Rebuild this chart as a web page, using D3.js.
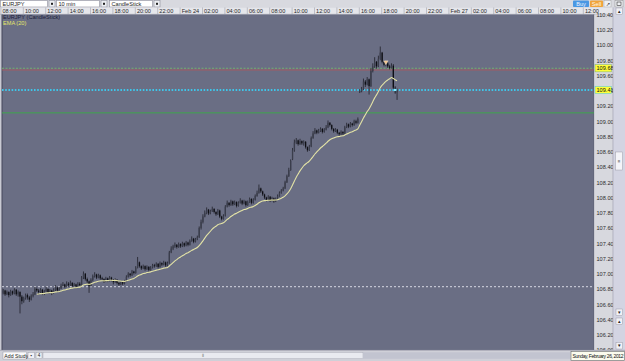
<!DOCTYPE html>
<html><head><meta charset="utf-8">
<script src="https://cdn.jsdelivr.net/npm/d3@7"></script>
<style>
html,body{margin:0;padding:0;background:#c8c9d2;overflow:hidden}
svg{display:block}
text{font-family:"Liberation Sans",Arial,sans-serif}
</style>
</head><body>
<svg id="c" width="625" height="361"></svg>
<script>
// ---------------- DATA ----------------
const symbol = "EURJPY";
const period = "10 min";
const chartType = "CandleStick";
const timeLabels = ["08:00","10:00","12:00","14:00","16:00","18:00","20:00","22:00","Feb 24",
  "02:00","04:00","06:00","08:00","10:00","12:00","14:00","16:00","18:00","20:00","22:00","Feb 27",
  "02:00","04:00","06:00","08:00","10:00","12:00"];
const priceTicks = [106.00,106.20,106.40,106.60,106.80,107.00,107.20,107.40,107.60,107.80,108.00,
  108.20,108.40,108.60,108.80,109.00,109.20,109.40,109.60,109.80,110.00,110.20,110.40];

const opens = [
106.74,106.75,106.78,106.73,106.76,106.72,106.77,106.74,106.79,106.73,
106.76,106.70,106.64,106.68,106.72,106.69,106.66,106.71,106.73,106.80,
106.78,106.76,106.79,106.74,106.77,106.80,106.76,106.78,106.75,106.79,
106.82,106.78,106.81,106.84,106.86,106.83,106.87,106.85,106.88,106.84,
106.86,106.83,106.87,106.85,106.95,107.00,106.93,106.90,106.84,106.92,
106.97,106.99,106.95,106.98,106.94,106.93,106.90,106.94,106.91,106.95,
106.92,106.89,106.92,106.88,106.86,106.89,106.87,106.90,106.96,107.00,
106.98,107.03,107.01,107.08,107.15,107.10,107.07,107.10,107.06,107.09,
107.05,107.08,107.11,107.10,107.13,107.09,107.14,107.12,107.15,107.11,
107.14,107.28,107.33,107.36,107.38,107.35,107.39,107.36,107.40,107.37,
107.41,107.38,107.43,107.46,107.42,107.45,107.48,107.60,107.68,107.75,
107.80,107.84,107.79,107.82,107.85,107.81,107.78,107.83,107.75,107.72,
107.76,107.88,107.93,107.90,107.95,107.91,107.94,107.89,107.93,107.96,
107.92,107.95,107.90,107.94,107.98,107.93,107.97,108.02,108.06,108.12,
108.08,108.04,108.00,107.97,108.01,107.96,107.99,107.95,107.98,108.02,
108.06,108.09,108.12,108.20,108.28,108.36,108.50,108.62,108.72,108.75,
108.70,108.74,108.71,108.73,108.66,108.62,108.67,108.78,108.84,108.88,
108.85,108.87,108.90,108.86,108.89,108.92,108.98,108.95,108.90,108.87,
108.89,108.85,108.83,108.86,108.84,108.92,108.96,108.93,108.97,108.95,
109.00,108.98,109.38,109.40,109.42,109.52,109.48,109.55,109.46,109.66,
109.72,109.78,109.72,109.82,109.90,109.78,109.74,109.76,109.72,109.70,
109.73,109.44,109.38];

const highs = [
106.78,106.80,106.79,106.78,106.77,106.79,106.78,106.81,106.80,106.78,
106.77,106.72,106.70,106.74,106.74,106.71,106.73,106.76,106.83,106.82,
106.80,106.81,106.80,106.79,106.83,106.81,106.80,106.79,106.81,106.85,
106.83,106.83,106.87,106.89,106.87,106.90,106.89,106.91,106.89,106.88,
106.87,106.89,106.89,106.97,107.03,107.01,106.95,106.91,106.94,106.99,
107.02,107.00,107.00,106.99,106.96,106.94,106.96,106.95,106.97,106.96,
106.93,106.94,106.93,106.90,106.91,106.90,106.92,106.98,107.02,107.01,
107.05,107.04,107.10,107.22,107.16,107.11,107.12,107.11,107.11,107.10,
107.10,107.13,107.13,107.15,107.14,107.16,107.15,107.17,107.16,107.16,
107.30,107.36,107.38,107.41,107.39,107.41,107.40,107.42,107.41,107.43,
107.42,107.45,107.49,107.47,107.47,107.50,107.62,107.71,107.78,107.83,
107.87,107.85,107.84,107.88,107.86,107.82,107.85,107.84,107.76,107.78,
107.90,107.96,107.94,107.97,107.96,107.96,107.95,107.95,107.99,107.97,
107.97,107.96,107.96,108.00,107.99,107.99,108.04,108.09,108.17,108.13,
108.09,108.05,108.01,108.03,108.02,108.01,108.00,108.00,108.04,108.08,
108.11,108.14,108.22,108.30,108.39,108.50,108.65,108.76,108.78,108.76,
108.77,108.75,108.75,108.74,108.67,108.69,108.80,108.87,108.91,108.89,
108.90,108.92,108.91,108.91,108.95,109.01,108.99,108.96,108.91,108.91,
108.90,108.86,108.88,108.87,108.94,108.98,108.97,108.99,108.98,109.02,
109.02,109.05,109.42,109.45,109.56,109.54,109.58,109.56,109.70,109.76,
109.84,109.79,109.86,109.98,109.91,109.80,109.79,109.78,109.74,109.76,
109.75,109.46,109.43];

const lows = [
106.71,106.73,106.71,106.72,106.69,106.71,106.72,106.73,106.71,106.70,
106.48,106.60,106.62,106.66,106.66,106.63,106.65,106.69,106.72,106.76,
106.73,106.74,106.72,106.72,106.76,106.74,106.74,106.72,106.74,106.77,
106.76,106.77,106.80,106.82,106.81,106.82,106.83,106.84,106.82,106.82,
106.81,106.82,106.83,106.84,106.93,106.91,106.87,106.75,106.83,106.90,
106.95,106.93,106.94,106.92,106.91,106.88,106.89,106.89,106.90,106.90,
106.86,106.88,106.86,106.84,106.85,106.85,106.86,106.89,106.95,106.96,
106.97,106.99,107.00,107.07,107.08,107.05,107.06,107.04,107.05,107.03,
107.04,107.07,107.08,107.09,107.07,107.08,107.10,107.11,107.09,107.10,
107.13,107.27,107.31,107.34,107.33,107.34,107.34,107.35,107.35,107.36,
107.36,107.37,107.42,107.40,107.41,107.44,107.47,107.58,107.66,107.74,
107.78,107.77,107.78,107.81,107.79,107.76,107.77,107.73,107.70,107.71,
107.75,107.87,107.88,107.89,107.89,107.90,107.87,107.88,107.92,107.90,
107.91,107.88,107.89,107.93,107.91,107.92,107.96,108.01,108.05,108.06,
108.02,107.98,107.95,107.96,107.94,107.95,107.93,107.94,107.97,108.01,
108.05,108.08,108.11,108.19,108.27,108.35,108.49,108.60,108.70,108.68,
108.69,108.69,108.68,108.64,108.60,108.61,108.66,108.77,108.83,108.83,
108.84,108.86,108.84,108.85,108.88,108.91,108.93,108.88,108.85,108.86,
108.83,108.81,108.82,108.82,108.83,108.91,108.91,108.92,108.93,108.94,
108.96,108.97,109.37,109.38,109.41,109.45,109.47,109.35,109.45,109.64,
109.70,109.69,109.71,109.80,109.76,109.72,109.72,109.70,109.68,109.69,
109.42,109.36,109.28];

const closes = [
106.75,106.78,106.73,106.76,106.72,106.77,106.74,106.79,106.73,106.76,
106.70,106.64,106.68,106.72,106.69,106.66,106.71,106.73,106.80,106.78,
106.76,106.79,106.74,106.77,106.80,106.76,106.78,106.75,106.79,106.82,
106.78,106.81,106.84,106.86,106.83,106.87,106.85,106.88,106.84,106.86,
106.83,106.87,106.85,106.95,107.00,106.93,106.90,106.84,106.92,106.97,
106.99,106.95,106.98,106.94,106.93,106.90,106.94,106.91,106.95,106.92,
106.89,106.92,106.88,106.86,106.89,106.87,106.90,106.96,107.00,106.98,
107.03,107.01,107.08,107.15,107.10,107.07,107.10,107.06,107.09,107.05,
107.08,107.11,107.10,107.13,107.09,107.14,107.12,107.15,107.11,107.14,
107.28,107.33,107.36,107.38,107.35,107.39,107.36,107.40,107.37,107.41,
107.38,107.43,107.46,107.42,107.45,107.48,107.60,107.68,107.75,107.80,
107.84,107.79,107.82,107.85,107.81,107.78,107.83,107.75,107.72,107.76,
107.88,107.93,107.90,107.95,107.91,107.94,107.89,107.93,107.96,107.92,
107.95,107.90,107.94,107.98,107.93,107.97,108.02,108.06,108.12,108.08,
108.04,108.00,107.97,108.01,107.96,107.99,107.95,107.98,108.02,108.06,
108.09,108.12,108.20,108.28,108.36,108.48,108.62,108.72,108.75,108.70,
108.74,108.71,108.73,108.66,108.62,108.67,108.78,108.84,108.88,108.85,
108.87,108.90,108.86,108.89,108.92,108.98,108.95,108.90,108.87,108.89,
108.85,108.83,108.86,108.84,108.92,108.96,108.93,108.97,108.95,109.00,
108.98,109.03,109.40,109.42,109.52,109.48,109.55,109.46,109.66,109.72,
109.78,109.72,109.82,109.90,109.78,109.74,109.76,109.72,109.70,109.73,
109.44,109.38,109.41];

const emaPeriod = 20;
// horizontal level lines (prices): ask level, order level, last price, support, reference
const levelAsk = 109.695;
const levelRed = 109.672;
const levelLast = 109.41;
const levelGreen = 109.11;
const levelWhite = 106.83;
const askLabel = "109.68";
const lastLabel = "109.41";
const markerSlot = 206, markerPrice = 109.775;
const footerDate = "Sunday, February 26, 2012";

// ---------------- DRAW ----------------
const W = 625, H = 361;
const P = {x0: 2, x1: 594, y0: 14.5, y1: 350};
const svg = d3.select('#c');
const FS = 5.6;

svg.append('rect').attr('width', W).attr('height', H).attr('fill', '#c9cad3');

// toolbar
svg.append('rect').attr('x', 0).attr('y', 0).attr('width', W).attr('height', 7.5).attr('fill', '#d8d9df');
const boxes = [[0.5, 47, symbol], [56.5, 43, period], [109.5, 43, chartType]];
boxes.forEach(b => {
  svg.append('rect').attr('x', b[0]).attr('y', 0.5).attr('width', b[1]).attr('height', 6.5)
    .attr('fill', '#fff').attr('stroke', '#8c8e9c').attr('stroke-width', 0.6);
  svg.append('text').attr('x', b[0] + 2).attr('y', 5.6).attr('font-size', FS).attr('fill', '#222').text(b[2]);
  svg.append('rect').attr('x', b[0] + b[1] + 1.5).attr('y', 0.5).attr('width', 6).attr('height', 6.5)
    .attr('fill', '#eceef2').attr('stroke', '#8c8e9c').attr('stroke-width', 0.6);
  svg.append('rect').attr('x', b[0] + b[1] + 3.5).attr('y', 2.8).attr('width', 2).attr('height', 2).attr('fill', '#222');
});
// buy / sell buttons
svg.append('rect').attr('x', 573).attr('y', 0.5).attr('width', 16).attr('height', 6.5).attr('fill', '#4a97e3').attr('rx', 0.8);
svg.append('text').attr('x', 581).attr('y', 5.6).attr('text-anchor', 'middle').attr('font-size', FS).attr('fill', '#eaf2ff').text('Buy');
svg.append('rect').attr('x', 590).attr('y', 0.5).attr('width', 13).attr('height', 6.5).attr('fill', '#f0a43a').attr('rx', 0.8);
svg.append('text').attr('x', 596.5).attr('y', 5.6).attr('text-anchor', 'middle').attr('font-size', FS).attr('fill', '#fff8e8').text('Sell');
svg.append('rect').attr('x', 604).attr('y', 0.5).attr('width', 7).attr('height', 6.5).attr('fill', '#eef0f4').attr('stroke', '#999').attr('stroke-width', 0.4);
svg.append('text').attr('x', 607.5).attr('y', 5.6).attr('text-anchor', 'middle').attr('font-size', 5).attr('fill', '#333').text('↗');
svg.append('rect').attr('x', 615).attr('y', 0.5).attr('width', 8).attr('height', 6.5).attr('fill', '#eef0f4').attr('stroke', '#777').attr('stroke-width', 0.4);
svg.append('rect').attr('x', 617).attr('y', 2).attr('width', 4).attr('height', 3.5).attr('fill', 'none').attr('stroke', '#333').attr('stroke-width', 0.6);

// time strip
svg.append('rect').attr('x', 0).attr('y', 7.5).attr('width', 613).attr('height', 7).attr('fill', '#e5e6eb');
svg.append('line').attr('x1', 0).attr('x2', 613).attr('y1', 14.3).attr('y2', 14.3).attr('stroke', '#9a9caa').attr('stroke-width', 0.6);

// scales
const x = d3.scaleLinear().domain([0, 12]).range([0.4, 22.8]);
const y = d3.scaleLinear().domain([106, 110]).range([350, 45]);

const tAxis = svg.append('g').attr('transform', 'translate(0,7.5)')
  .call(d3.axisBottom(x).tickValues(timeLabels.map((_, i) => i * 12))
    .tickFormat((d, i) => timeLabels[i]).tickSize(6.8).tickPadding(0));
tAxis.select('.domain').remove();
tAxis.selectAll('line').attr('stroke', '#9fa1ad').attr('stroke-width', 0.6);
tAxis.selectAll('text').attr('text-anchor', 'start').attr('dx', 1.6).attr('y', 0).attr('dy', 5.2)
  .attr('font-size', FS).attr('fill', '#2a2a2a').attr('font-family', '"Liberation Sans",Arial,sans-serif');

// plot area
svg.append('defs').append('clipPath').attr('id', 'pc').append('rect')
  .attr('x', P.x0).attr('y', P.y0).attr('width', P.x1 - P.x0).attr('height', P.y1 - P.y0);
svg.append('rect').attr('x', P.x0).attr('y', P.y0).attr('width', P.x1 - P.x0).attr('height', P.y1 - P.y0).attr('fill', '#6a6e84');
svg.append('line').attr('x1', P.x0).attr('x2', P.x0).attr('y1', P.y0).attr('y2', P.y1).attr('stroke', '#44475a').attr('stroke-width', 1);
svg.append('line').attr('x1', P.x1).attr('x2', P.x1).attr('y1', P.y0).attr('y2', P.y1).attr('stroke', '#55586a').attr('stroke-width', 0.6);

const g = svg.append('g').attr('clip-path', 'url(#pc)');

// level lines
g.append('line').attr('x1', P.x0).attr('x2', P.x1).attr('y1', y(levelWhite)).attr('y2', y(levelWhite))
  .attr('stroke', '#e4e6ee').attr('stroke-width', 0.9).attr('stroke-dasharray', '2,2');
g.append('line').attr('x1', P.x0).attr('x2', P.x1).attr('y1', y(levelGreen)).attr('y2', y(levelGreen))
  .attr('stroke', '#3fa64e').attr('stroke-width', 1);
g.append('line').attr('x1', P.x0).attr('x2', P.x1).attr('y1', y(levelRed)).attr('y2', y(levelRed))
  .attr('stroke', '#b2555a').attr('stroke-width', 0.8);
g.append('line').attr('x1', P.x0).attr('x2', P.x1).attr('y1', y(levelAsk)).attr('y2', y(levelAsk))
  .attr('stroke', '#74b070').attr('stroke-width', 1).attr('stroke-dasharray', '2,1.5');
g.append('line').attr('x1', P.x0).attr('x2', P.x1).attr('y1', y(levelLast)).attr('y2', y(levelLast))
  .attr('stroke', '#3ec6ea').attr('stroke-width', 1.8).attr('stroke-dasharray', '1.6,1.6');

// candles
const candles = closes.map((c, i) => ({i, o: opens[i], h: highs[i], l: lows[i], c}));
const cg = g.append('g');
cg.selectAll('line.w').data(candles).join('line').attr('class', 'w')
  .attr('x1', d => x(d.i + 0.5)).attr('x2', d => x(d.i + 0.5))
  .attr('y1', d => y(d.h)).attr('y2', d => y(d.l))
  .attr('stroke', '#15161c').attr('stroke-width', 0.7);
cg.selectAll('rect.b').data(candles).join('rect').attr('class', 'b')
  .attr('x', d => x(d.i + 0.5) - 0.65).attr('width', 1.3)
  .attr('y', d => y(Math.max(d.o, d.c)))
  .attr('height', d => Math.max(0.8, Math.abs(y(d.o) - y(d.c))))
  .attr('fill', d => d.c >= d.o ? '#3b3e4c' : '#0e0f14');

// EMA(20)
const k = 2 / (emaPeriod + 1);
const ema = [];
let prev = null;
closes.forEach((c, i) => {
  if (i === emaPeriod - 1) { prev = d3.mean(closes.slice(0, emaPeriod)); ema.push({i, v: prev}); }
  else if (i >= emaPeriod) { prev = prev + k * (c - prev); ema.push({i, v: prev}); }
});
g.append('path').datum(ema).attr('fill', 'none').attr('stroke', '#e3e3a6').attr('stroke-width', 1.1)
  .attr('d', d3.line().x(d => x(d.i + 0.5)).y(d => y(d.v)).curve(d3.curveMonotoneX));

// markers
g.append('path').attr('d', d3.symbol(d3.symbolTriangle, 9)())
  .attr('transform', `translate(${x(markerSlot + 0.5)},${y(markerPrice)}) rotate(180)`)
  .attr('fill', '#f3c48a').attr('stroke', '#fff').attr('stroke-width', 0.3);
g.append('rect').attr('x', x(closes.length - 1.5) - 1.2).attr('y', y(levelLast) - 1.2).attr('width', 2.4).attr('height', 2.4)
  .attr('fill', '#8fe6ff');

// legend
svg.append('text').attr('x', 3).attr('y', 19.3).attr('font-size', FS).attr('fill', '#1b1d3a').text(`${symbol} (${chartType})`);
svg.append('text').attr('x', 3).attr('y', 24.6).attr('font-size', FS).attr('fill', '#e6e66a').text(`EMA (${emaPeriod})`);

// price axis panel
svg.append('rect').attr('x', P.x1 + 0.3).attr('y', P.y0).attr('width', 18.5).attr('height', P.y1 - P.y0).attr('fill', '#d7d8de');
const pAxis = svg.append('g').attr('transform', `translate(${P.x1 + 2.5},0)`)
  .call(d3.axisRight(y).tickValues(priceTicks).tickSize(0).tickPadding(0).tickFormat(d3.format('.2f')));
pAxis.select('.domain').remove();
pAxis.selectAll('text').attr('font-size', FS).attr('fill', '#2c2c2c').attr('font-family', '"Liberation Sans",Arial,sans-serif');

// highlighted labels
[[levelAsk, askLabel, '#7ab070'], [levelLast, lastLabel, '#3ec6ea']].forEach(a => {
  svg.append('rect').attr('x', P.x1 + 1).attr('y', y(a[0]) - 3.6).attr('width', 16.5).attr('height', 7.2)
    .attr('fill', '#ffff3a').attr('stroke', a[2]).attr('stroke-width', 0.5);
  svg.append('text').attr('x', P.x1 + 2.5).attr('y', y(a[0]) + 2).attr('font-size', FS).attr('fill', '#111').text(a[1]);
});

// right scrollbar
svg.append('rect').attr('x', 613).attr('y', 7.5).attr('width', 12).attr('height', 343).attr('fill', '#d3d4e2');
svg.append('line').attr('x1', 613).attr('x2', 613).attr('y1', 7.5).attr('y2', 350).attr('stroke', '#9d9fae').attr('stroke-width', 0.6);
function smallBtn(bx, by, glyph) {
  svg.append('rect').attr('x', bx).attr('y', by).attr('width', 6.5).attr('height', 6.5)
    .attr('fill', '#f1f1f6').attr('stroke', '#8a8c98').attr('stroke-width', 0.4);
  svg.append('text').attr('x', bx + 3.25).attr('y', by + 4.9).attr('text-anchor', 'middle').attr('font-size', 4.5).attr('fill', '#222').text(glyph);
}
smallBtn(616, 8, '▲');
svg.append('rect').attr('x', 615.5).attr('y', 152).attr('width', 7).attr('height', 18).attr('fill', '#f4f4f8').attr('stroke', '#8a8c98').attr('stroke-width', 0.4);
svg.append('text').attr('x', 619).attr('y', 162.5).attr('text-anchor', 'middle').attr('font-size', 4.5).attr('fill', '#555').text('≡');
smallBtn(616, 309, '▾');
smallBtn(616, 318, '▴');
smallBtn(616, 342.5, '▼');

// bottom bar
svg.append('rect').attr('x', 0).attr('y', 350).attr('width', W).attr('height', 11).attr('fill', '#cfd0d8');
svg.append('line').attr('x1', 0).attr('x2', W).attr('y1', 350.3).attr('y2', 350.3).attr('stroke', '#8f91a0').attr('stroke-width', 0.6);
svg.append('rect').attr('x', 3).attr('y', 352).attr('width', 23.5).attr('height', 7).attr('fill', '#fafafc').attr('stroke', '#8a8c98').attr('stroke-width', 0.4);
svg.append('text').attr('x', 4.3).attr('y', 357.6).attr('font-size', 5.2).attr('fill', '#222').text('Add Study');
smallBtn(28, 352.3, '▪');
svg.append('rect').attr('x', 36).attr('y', 352.3).attr('width', 6).attr('height', 6.5).attr('fill', '#eef0f4').attr('stroke', '#8a8c98').attr('stroke-width', 0.4);
svg.append('text').attr('x', 39).attr('y', 357.4).attr('text-anchor', 'middle').attr('font-size', 4.6).attr('fill', '#222').text('4');
svg.append('rect').attr('x', 43).attr('y', 352.3).attr('width', 320).attr('height', 6.5).attr('fill', '#e9eaf0').attr('stroke', '#9c9eab').attr('stroke-width', 0.4);
svg.append('text').attr('x', 203).attr('y', 357.3).attr('text-anchor', 'middle').attr('font-size', 4.5).attr('fill', '#777').text('⦀');
svg.append('rect').attr('x', 363).attr('y', 352.3).attr('width', 207).attr('height', 6.5).attr('fill', '#c2c4d0');
svg.append('rect').attr('x', 571).attr('y', 351.5).attr('width', 53.5).attr('height', 9).attr('fill', '#fbfbee').attr('stroke', '#555').attr('stroke-width', 0.5);
svg.append('text').attr('x', 572.5).attr('y', 358.2).attr('font-size', 5).attr('fill', '#111').attr('textLength', 51).text(footerDate);
</script>
</body></html>
